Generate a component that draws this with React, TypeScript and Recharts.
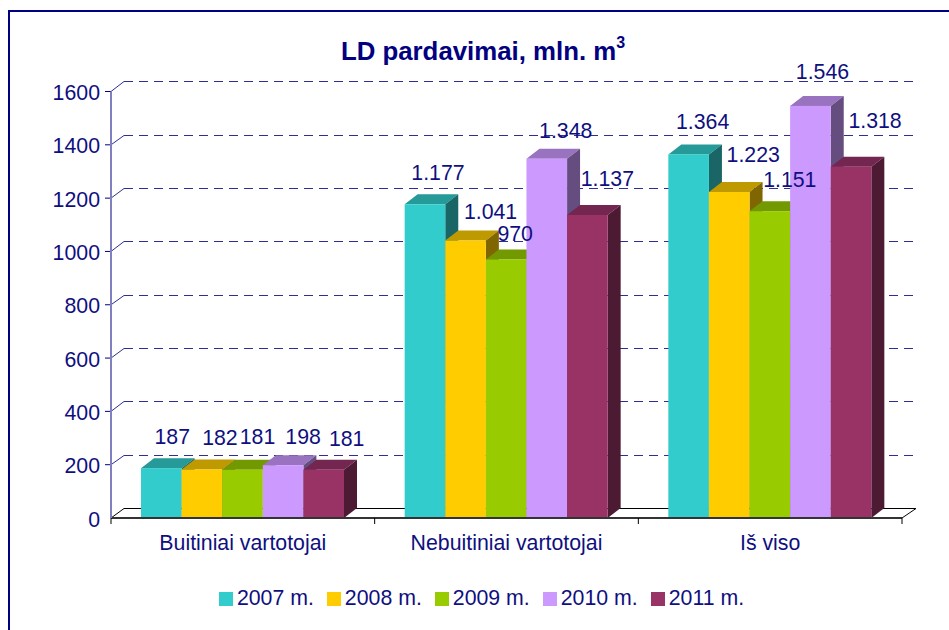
// App.tsx
import {Bar, BarChart, CartesianGrid, LabelList, Legend, XAxis, YAxis} from "recharts";

const categories = ["Buitiniai vartotojai", "Nebuitiniai vartotojai", "Iš viso"];
const years = ["2007 m.", "2008 m.", "2009 m.", "2010 m.", "2011 m."];
const values2007 = [187, 1177, 1364];
const values2008 = [182, 1041, 1223];
const values2009 = [181, 970, 1151];
const values2010 = [198, 1348, 1546];
const values2011 = [181, 1137, 1318];
const yTicks = [0, 200, 400, 600, 800, 1000, 1200, 1400, 1600];

const seriesValues = [values2007, values2008, values2009, values2010, values2011];
const data = categories.map((name, i) => {
  const row: any = {name};
  years.forEach((y, s) => (row[y] = seriesValues[s][i]));
  return row;
});

const NAVY = "#000080";
const TEXT = "#0f0f80";
const FONT = "'Liberation Sans', Arial, sans-serif";
const COLORS = ["#33CCCC", "#FFCC00", "#99CC00", "#CC99FF", "#993366"];
const TOPS = ["#269999", "#BF9900", "#739900", "#9973BF", "#732650"];
const SIDES = ["#1A6666", "#806600", "#4D6600", "#664D80", "#4D1A33"];
const DX = 13;
const DY = 10;
const PLOT_LEFT = 111;
const PLOT_RIGHT = 902;
const BAND = (PLOT_RIGHT - PLOT_LEFT) / categories.length;
const TEXT_SIZE = 21.3;

// hand-dragged label positions in the original, relative to each bar's top centre
const labelShift = [
  [[11, -32], [13, -32], [14, -33]],
  [[18, -32], [25, -30], [24, -38]],
  [[15, -34], [9, -26], [20, -32]],
  [[20, -29], [19, -29], [12, -35]],
  [[23, -32], [20, -37], [24, -47]],
];

const formatValue = (v: number) => (v >= 1000 ? String(v).replace(/(\d)(\d{3})$/, "$1.$2") : String(v));

const Bar3D = (props: any, s: number) => {
  const {x, y, width, height} = props;
  const r = x + width;
  const b = y + height;
  return (
    <g>
      <polygon points={`${x},${y} ${x + DX},${y - DY} ${r + DX},${y - DY} ${r},${y}`} fill={TOPS[s]}/>
      <polygon points={`${r},${y} ${r + DX},${y - DY} ${r + DX},${b - DY} ${r},${b}`} fill={SIDES[s]}/>
      <rect x={x} y={y} width={width} height={height} fill={COLORS[s]}/>
    </g>
  );
};

const GridLine = (props: any) => {
  const {x1, x2, y1, index} = props;
  const isFloor = y1 > 500;
  const backY = Math.round(y1 - DY - 0.1) + 0.5;
  const stroke = isFloor ? "#000" : "#2e2e96";
  return (
    <g key={`grid-${index}`}>
      {!isFloor && <line x1={PLOT_LEFT - 6} x2={PLOT_LEFT} y1={y1} y2={y1} stroke={NAVY}/>}
      <line x1={x1} x2={x1 + DX} y1={y1} y2={backY} stroke={stroke}/>
      <line x1={x1 + DX} x2={x2 + 14} y1={backY} y2={backY} stroke={stroke} strokeDasharray={isFloor ? undefined : "9 6"}/>
      {isFloor && <line x1={x2} x2={x2 + 14} y1={y1} y2={backY} stroke="#000"/>}
    </g>
  );
};

const CategoryTick = (props: any) => {
  const {x, y, payload, index} = props;
  const left = x - BAND / 2;
  return (
    <g>
      <line x1={left} x2={left} y1={y - 8} y2={y - 2} stroke="#000"/>
      {index === categories.length - 1 && <line x1={left + BAND} x2={left + BAND} y1={y - 8} y2={y - 2} stroke="#000"/>}
      <text x={x} y={y + 24} textAnchor="middle" fontFamily={FONT} fontSize={TEXT_SIZE} fill={TEXT}>{payload.value}</text>
    </g>
  );
};

const ValueLabel = (props: any, s: number) => {
  const {x, y, width, value, index} = props;
  const [sx, sy] = labelShift[s][index];
  return (
    <text x={x + width / 2 + sx} y={y + sy + 8} textAnchor="middle" fontFamily={FONT} fontSize={TEXT_SIZE} fill={TEXT}>
      {formatValue(value)}
    </text>
  );
};

const chartProps = {
  width: 949,
  height: 630,
  data,
  barGap: 0,
  barSize: 40.6,
};

const App = () => {
  return (
    <div style={{position: "fixed", inset: 0, overflow: "hidden", background: "#fff"}}>
      <div style={{position: "absolute", left: 7.5, top: 10, width: 960, height: 640, boxSizing: "border-box", border: `2.5px solid ${NAVY}`}}/>
      <div style={{position: "absolute", left: 0, top: 0}}>
        <BarChart {...chartProps} margin={{top: 91.5, right: 47, bottom: 82, left: 51}}>
          <CartesianGrid vertical={false} horizontal={GridLine as any}/>
          <XAxis dataKey="name" height={30} axisLine={{stroke: "#333", strokeWidth: 2}} tickLine={false} tick={CategoryTick as any} interval={0}/>
          <YAxis width={60} domain={[0, 1600]} ticks={yTicks} axisLine={{stroke: "#8080c0", strokeWidth: 2}} tickLine={false} tickMargin={5} tick={{fontFamily: FONT, fontSize: TEXT_SIZE, fill: TEXT, dy: 1}}/>
          <Legend
            verticalAlign="middle"
            iconType="square"
            iconSize={14}
            wrapperStyle={{top: 586, left: 0, width: 976, fontFamily: FONT, fontSize: TEXT_SIZE}}
            formatter={(v: string) => <span style={{color: TEXT, marginRight: 3}}>{v}</span>}
          />
          {years.map((y, s) => (
            <Bar key={y} dataKey={y} fill={COLORS[s]} isAnimationActive={false} shape={(p: any) => Bar3D(p, s)}/>
          ))}
        </BarChart>
      </div>
      <div style={{position: "absolute", left: 0, top: 0, pointerEvents: "none"}}>
        <BarChart {...chartProps} margin={{top: 91.5, right: 47, bottom: 112, left: 111}}>
          <XAxis dataKey="name" hide/>
          <YAxis domain={[0, 1600]} hide/>
          {years.map((y, s) => (
            <Bar key={y} dataKey={y} fill="none" isAnimationActive={false}>
              <LabelList dataKey={y} content={(p: any) => ValueLabel(p, s)}/>
            </Bar>
          ))}
        </BarChart>
      </div>
      <div style={{position: "absolute", left: 0, width: 966, top: 37, textAlign: "center", fontFamily: FONT, fontWeight: "bold", fontSize: 25.8, color: NAVY}}>
        LD pardavimai, mln. m<sup style={{fontSize: 16, lineHeight: 0, position: "relative", top: -2}}>3</sup>
      </div>
    </div>
  );
};

export default App;
